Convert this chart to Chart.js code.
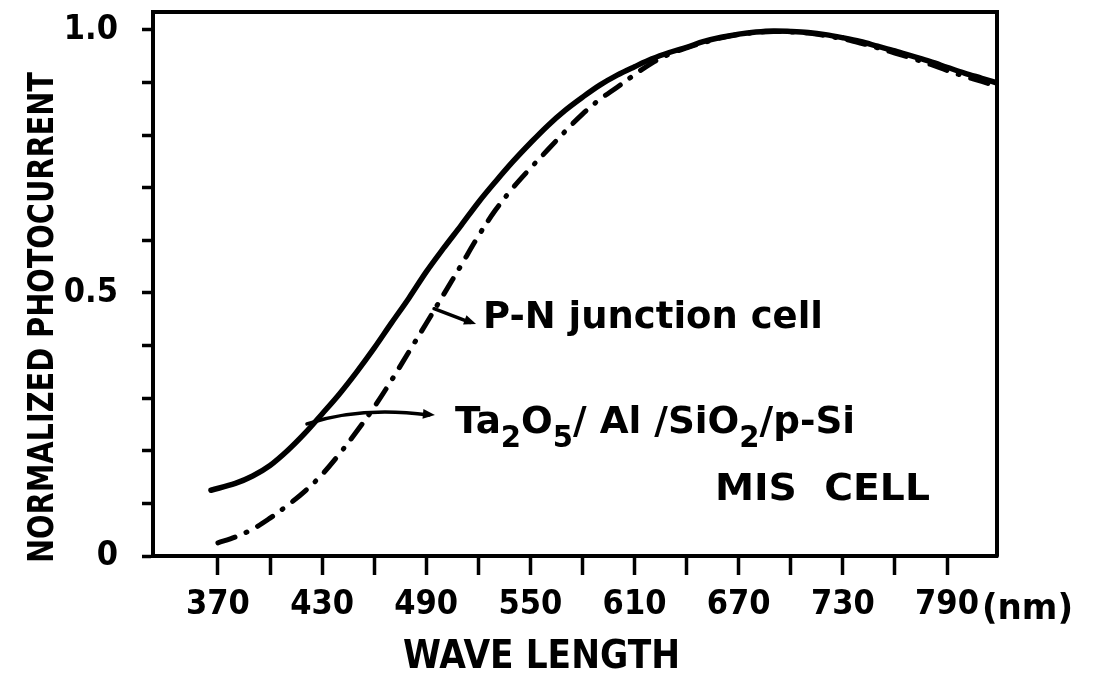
<!DOCTYPE html>
<html>
<head>
<meta charset="utf-8">
<script src="https://cdn.jsdelivr.net/npm/chart.js@4.4.1/dist/chart.umd.min.js"></script>
<style>
  html, body { margin: 0; padding: 0; background: #ffffff; }
  #wrap { width: 1106px; height: 679px; }
</style>
</head>
<body>
<div id="wrap"><canvas id="c" width="1106" height="679"></canvas></div>
<script>
// ---------------- data ----------------
const misWavelengths = [366,380,390,400,410,420,430,440,450,460,470,480,490,500,510,520,530,540,550,560,570,580,590,600,610,620,630,640,650,660,670,680,690,700,710,720,730,740,750,760,770,780,790,800,810,818];
const misPhotocurrent = [0.125,0.138,0.152,0.172,0.200,0.233,0.270,0.308,0.350,0.395,0.443,0.490,0.540,0.585,0.628,0.672,0.712,0.750,0.785,0.818,0.847,0.872,0.895,0.914,0.930,0.945,0.957,0.967,0.978,0.986,0.992,0.996,0.998,0.997,0.995,0.991,0.985,0.978,0.969,0.960,0.950,0.940,0.929,0.918,0.908,0.900];

const pnWavelengths = [370,380,390,400,410,420,430,440,450,460,470,480,490,500,510,520,530,540,550,560,570,580,590,600,610,620,630,640,650,660,670,680,690,700,710,720,730,740,750,760,770,780,790,800,810,818];
const pnPhotocurrent = [0.025,0.036,0.051,0.072,0.096,0.123,0.155,0.194,0.237,0.283,0.334,0.388,0.442,0.497,0.552,0.608,0.658,0.700,0.737,0.772,0.807,0.840,0.868,0.891,0.915,0.937,0.954,0.966,0.976,0.985,0.991,0.995,0.997,0.996,0.994,0.989,0.983,0.975,0.966,0.956,0.946,0.935,0.923,0.912,0.902,0.894];

const xTickValues = [370,400,430,460,490,520,550,580,610,640,670,700,730,760,790];
const xTickLabels = ['370','','430','','490','','550','','610','','670','','730','','790'];
const yTickValues = [0,0.1,0.2,0.3,0.4,0.5,0.6,0.7,0.8,0.9,1.0];
const yTickLabels = ['0','','','','','0.5','','','','','1.0'];

const xTitle = 'WAVE LENGTH';
const xUnit = '(nm)';
const yTitle = 'NORMALIZED PHOTOCURRENT';
const pnLabel = 'P-N junction cell';
const misLabelParts = [['Ta',0],['2',1],['O',0],['5',1],['/ Al /Si',0],['O',0],['2',1],['/p-Si',0]];
const misLabel2 = 'MIS  CELL';

// ---------------- fonts ----------------
function hasFont(name){
  const c = document.createElement('canvas').getContext('2d');
  const t = 'mmmmmWWWiii0123456789';
  c.font = '40px monospace'; const a = c.measureText(t).width;
  c.font = '40px "' + name + '", monospace'; const b = c.measureText(t).width;
  c.font = '40px serif'; const a2 = c.measureText(t).width;
  c.font = '40px "' + name + '", serif'; const b2 = c.measureText(t).width;
  return a !== b || a2 !== b2;
}
const narrowOK = hasFont('Liberation Sans Narrow');
const condFamily = narrowOK ? '"Liberation Sans Narrow", "DejaVu Sans Condensed", sans-serif' : '"DejaVu Sans Condensed", "Liberation Sans", sans-serif';
const tickSize = narrowOK ? 41 : 34;
const textFamily = '"DejaVu Sans", "Liberation Sans", sans-serif';

// ---------------- helpers ----------------
function drawFitted(ctx, text, x, baseline, capH, width, family, weight){
  const size = capH / 0.72;
  ctx.font = weight + ' ' + size + 'px ' + family;
  const w = ctx.measureText(text).width;
  ctx.save();
  ctx.translate(x, baseline);
  ctx.scale(width / w, 1);
  ctx.textAlign = 'left';
  ctx.textBaseline = 'alphabetic';
  ctx.fillText(text, 0, 0);
  ctx.restore();
}
function arrowHead(ctx, tipX, tipY, fromX, fromY, len, half){
  const ang = Math.atan2(tipY - fromY, tipX - fromX);
  ctx.beginPath();
  ctx.moveTo(tipX, tipY);
  ctx.lineTo(tipX - len*Math.cos(ang) + half*Math.sin(ang), tipY - len*Math.sin(ang) - half*Math.cos(ang));
  ctx.lineTo(tipX - len*Math.cos(ang) - half*Math.sin(ang), tipY - len*Math.sin(ang) + half*Math.cos(ang));
  ctx.closePath();
  ctx.fill();
}

const annotations = {
  id: 'annotations',
  afterDraw(chart){
    const ctx = chart.ctx;
    const a = chart.chartArea;
    const xs = chart.scales.x, ys = chart.scales.y;
    const px = v => xs.getPixelForValue(v);
    const py = v => ys.getPixelForValue(v);
    ctx.save();
    ctx.fillStyle = '#000';
    ctx.strokeStyle = '#000';

    // frame top & right
    ctx.lineWidth = 4;
    ctx.lineCap = 'round';
    ctx.beginPath();
    ctx.moveTo(a.left, a.top);
    ctx.lineTo(a.right, a.top);
    ctx.lineTo(a.right, a.bottom);
    ctx.stroke();

    // P-N junction arrow (to dash-dot curve)
    ctx.lineWidth = 3.5;
    const p1x = px(494.5), p1y = py(0.470), p2x = px(518.7), p2y = py(0.441);
    ctx.beginPath(); ctx.moveTo(p1x, p1y); ctx.lineTo(p2x - 6, p2y - 1.5); ctx.stroke();
    arrowHead(ctx, p2x, p2y, p1x, p1y, 12, 5);

    // MIS arrow (to solid curve)
    const m0x = px(421.3), m0y = py(0.251), mcx = px(452), mcy = py(0.285), m1x = px(495.0), m1y = py(0.268);
    ctx.beginPath(); ctx.moveTo(m0x, m0y); ctx.quadraticCurveTo(mcx, mcy, m1x - 6, m1y); ctx.stroke();
    arrowHead(ctx, m1x, m1y, mcx, mcy + (m1y - mcy) * 0.2, 12, 5);

    // annotation texts
    drawFitted(ctx, pnLabel, px(522.7), py(0.4335), 27, 340, textFamily, 'bold');

    // Ta2O5 / Al / SiO2 / p-Si with subscripts
    const capH = 27, mainSize = capH / 0.72, subSize = mainSize * 0.78;
    let total = 0;
    const widths = misLabelParts.map(([t, sub]) => {
      ctx.font = 'bold ' + (sub ? subSize : mainSize) + 'px ' + textFamily;
      const w = ctx.measureText(t).width; total += w; return w;
    });
    const k = 400 / total;
    ctx.save();
    ctx.translate(px(506.6), py(0.234));
    ctx.scale(k, 1);
    ctx.textAlign = 'left'; ctx.textBaseline = 'alphabetic';
    let cx = 0;
    misLabelParts.forEach(([t, sub], i) => {
      ctx.font = 'bold ' + (sub ? subSize : mainSize) + 'px ' + textFamily;
      ctx.fillText(t, cx, sub ? 14 : 0);
      cx += widths[i];
    });
    ctx.restore();

    drawFitted(ctx, misLabel2, px(656.3), py(0.1065), 27, 215, textFamily, 'bold');

    // axis titles
    drawFitted(ctx, xTitle, 403, a.bottom + 112, 28, 277, condFamily, 'bold');
    ctx.save();
    ctx.translate(a.left - 100, a.bottom + 7);
    ctx.rotate(-Math.PI / 2);
    drawFitted(ctx, yTitle, 0, 0, 26, 491, condFamily, 'bold');
    ctx.restore();

    // unit after last tick label
    ctx.font = 'bold ' + tickSize + 'px ' + condFamily;
    const lastW = ctx.measureText(xTickLabels[xTickLabels.length - 1]).width;
    const unitX = Math.max(977, px(xTickValues[xTickValues.length - 1]) + lastW / 2 + 3);
    drawFitted(ctx, xUnit, unitX, a.bottom + 63, 25, 1073 - unitX, condFamily, 'bold');

    ctx.restore();
  }
};

const tickFont = { family: condFamily, size: tickSize, weight: 'bold' };

new Chart(document.getElementById('c'), {
  type: 'line',
  data: {
    datasets: [
      {
        label: 'Ta2O5/Al/SiO2/p-Si MIS cell',
        data: misWavelengths.map((w, i) => ({ x: w, y: misPhotocurrent[i] })),
        borderColor: '#000',
        borderWidth: 5.5,
        pointRadius: 0,
        tension: 0.35,
        borderCapStyle: 'round',
        fill: false
      },
      {
        label: 'P-N junction cell',
        data: pnWavelengths.map((w, i) => ({ x: w, y: pnPhotocurrent[i] })),
        borderColor: '#000',
        borderWidth: 5,
        borderDash: [18, 12, 1, 12],
        borderCapStyle: 'round',
        pointRadius: 0,
        tension: 0.35,
        fill: false
      }
    ]
  },
  options: {
    responsive: false,
    animation: false,
    devicePixelRatio: 1,
    layout: { padding: { top: 12, right: 109, bottom: 0, left: 0 } },
    plugins: { legend: { display: false }, tooltip: { enabled: false } },
    scales: {
      x: {
        type: 'linear',
        min: 332.6,
        max: 818.8,
        afterBuildTicks: s => { s.ticks = xTickValues.map(v => ({ value: v })); },
        afterFit: s => { s.height = 123; s.paddingLeft = 0; s.paddingRight = 0; },
        ticks: {
          autoSkip: false, maxRotation: 0, minRotation: 0,
          callback: (v, i) => xTickLabels[i] ?? '',
          color: '#000', font: tickFont, padding: 10
        },
        grid: { drawOnChartArea: false, drawTicks: true, tickLength: 19, tickWidth: 3.5, tickColor: '#000' },
        border: { display: true, color: '#000', width: 4 },
        title: { display: false }
      },
      y: {
        type: 'linear',
        min: 0,
        max: 1.034,
        afterBuildTicks: s => { s.ticks = yTickValues.map(v => ({ value: v })); },
        afterFit: s => { s.width = 153; s.paddingTop = 0; s.paddingBottom = 0; },
        ticks: {
          autoSkip: false,
          callback: (v, i) => yTickLabels[i] ?? '',
          color: '#000', font: tickFont, padding: 24
        },
        grid: { drawOnChartArea: false, drawTicks: true, tickLength: 11, tickWidth: 3.5, tickColor: '#000' },
        border: { display: true, color: '#000', width: 4 },
        title: { display: false }
      }
    }
  },
  plugins: [annotations]
});
</script>
</body>
</html>
